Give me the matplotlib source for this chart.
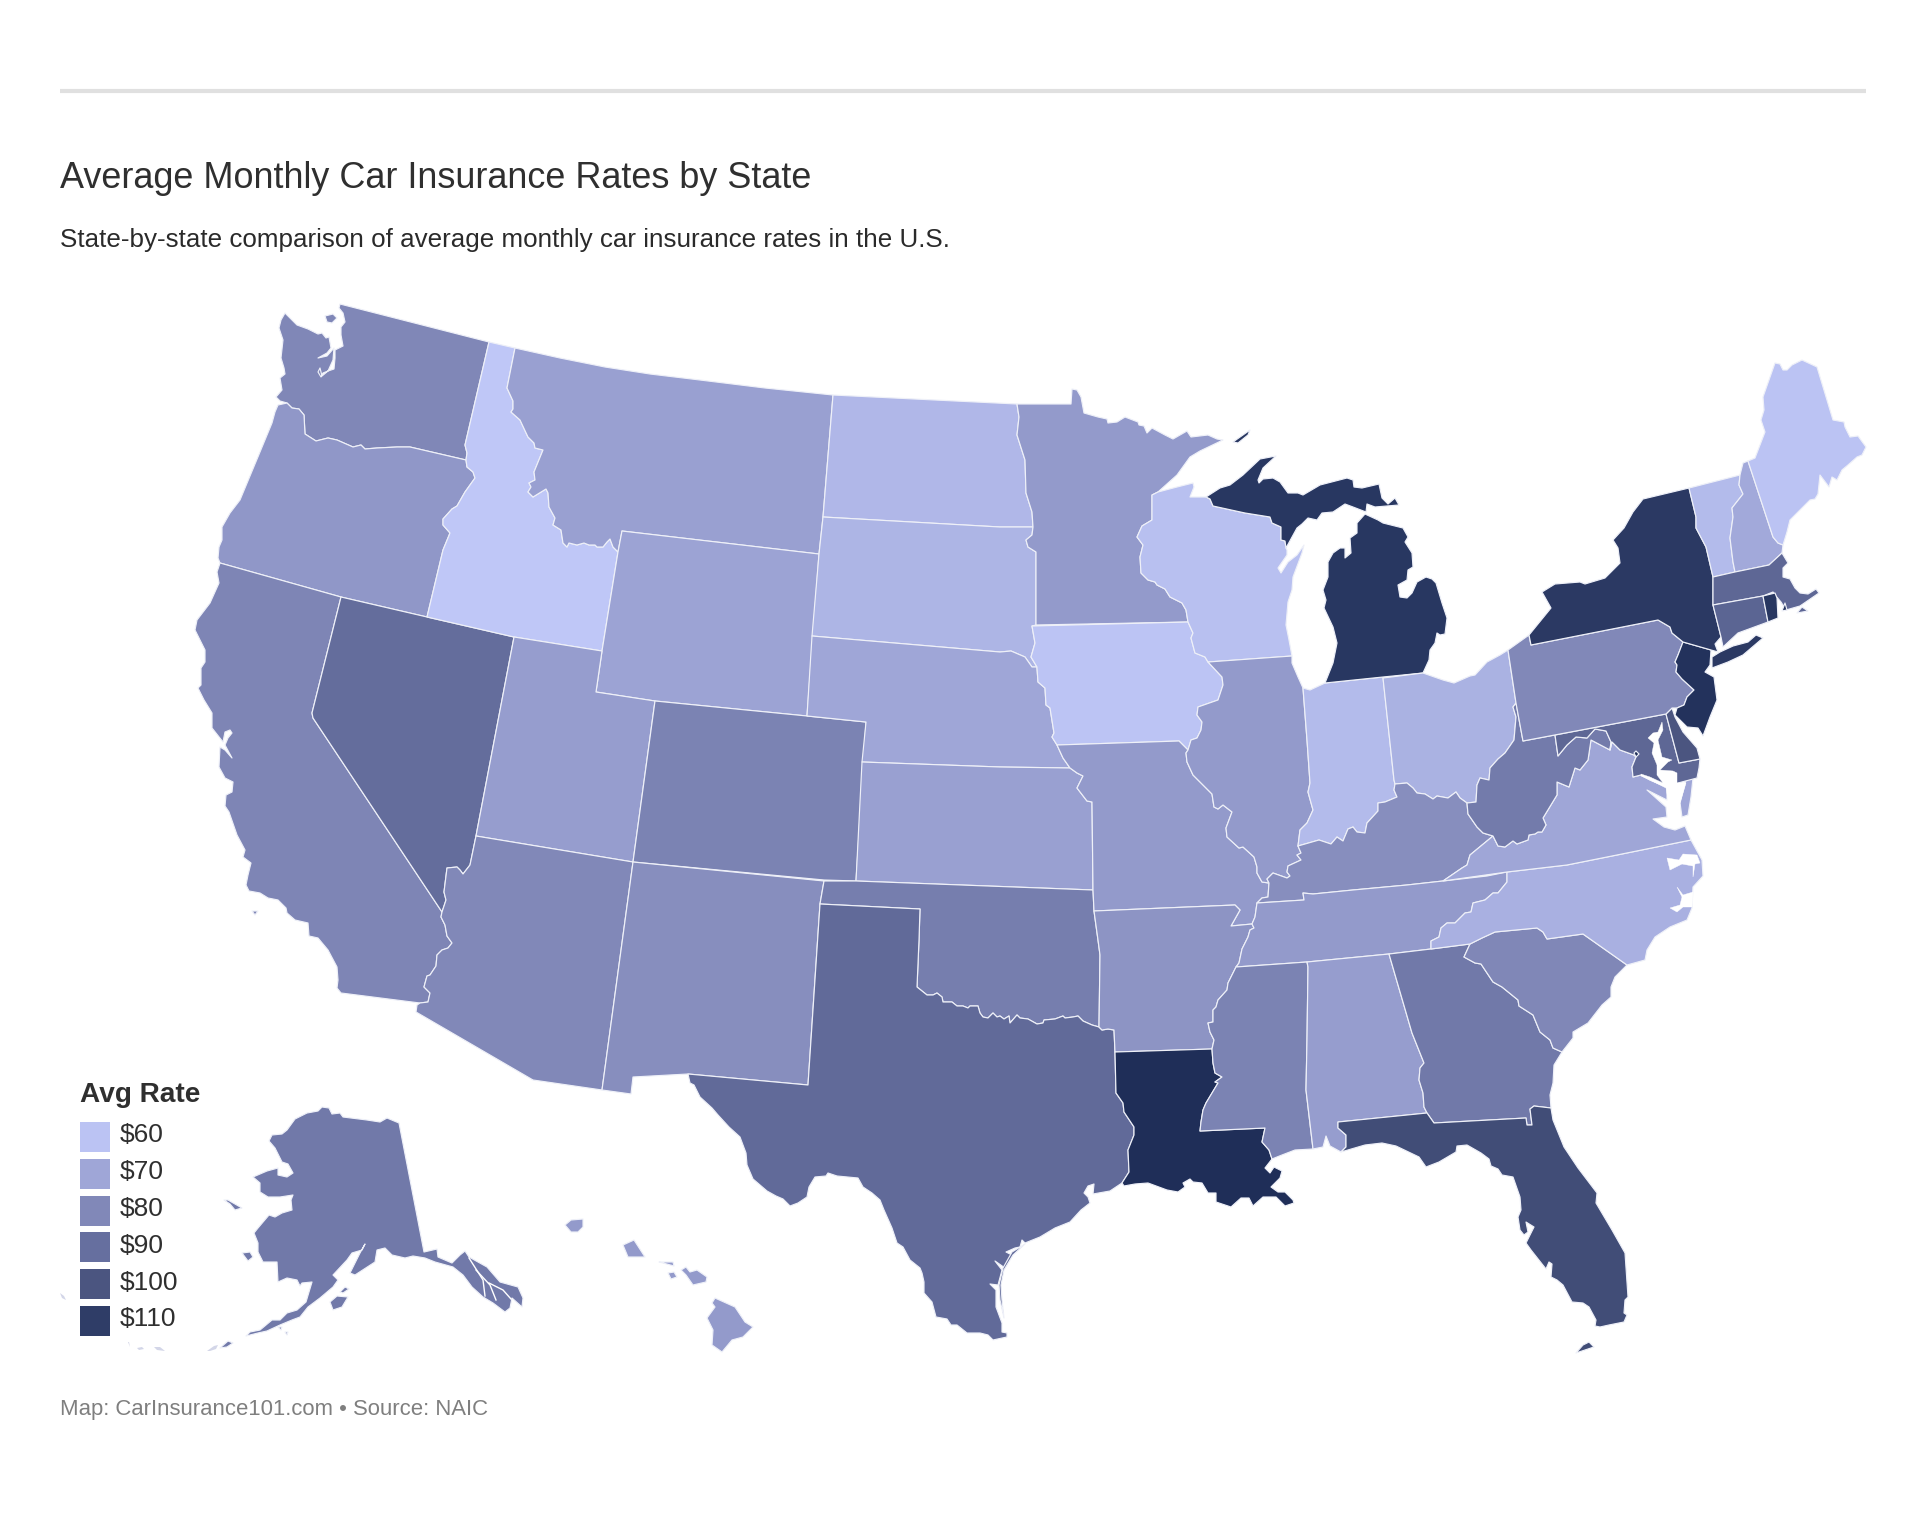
import matplotlib
matplotlib.use('Agg')
import matplotlib.pyplot as plt
from matplotlib.colors import LinearSegmentedColormap, Normalize
from matplotlib.patches import Polygon, Rectangle

plt.rcParams['font.family'] = ['Liberation Sans', 'DejaVu Sans']

TITLE = 'Average Monthly Car Insurance Rates by State'
SUBTITLE = 'State-by-state comparison of average monthly car insurance rates in the U.S.'
FOOTER = 'Map: CarInsurance101.com • Source: NAIC'

LEGEND_VALUES = [60, 70, 80, 90, 100, 110]
LEGEND_LABELS = ['$60', '$70', '$80', '$90', '$100', '$110']

# rate per state
RATES = {
    'ID': 57, 'IA': 59.5, 'ME': 60, 'WI': 61, 'IN': 63, 'VT': 63, 'ND': 64, 'SD': 65, 'OH': 66,
    'NC': 66.5, 'NH': 69, 'VA': 70, 'NE': 70, 'WY': 71, 'MT': 72, 'KS': 72, 'UT': 73, 'AL': 73,
    'MN': 74, 'MO': 74, 'IL': 74, 'TN': 74, 'HI': 74, 'OR': 75, 'AR': 76, 'NM': 78, 'KY': 78,
    'AZ': 80, 'PA': 80, 'SC': 80.5, 'WA': 80.5, 'CA': 81, 'CO': 82, 'MS': 82, 'OK': 84, 'WV': 85,
    'AK': 86, 'GA': 86, 'NV': 91, 'TX': 92, 'MA': 93, 'CT': 94, 'MD': 93, 'DE': 100, 'FL': 103.5,
    'NY': 111, 'MI': 112, 'RI': 112, 'NJ': 113.5, 'LA': 115, 'DC': 115,
}

# shared borders, in map units
WA_ID = [(489,342),(465,445),(467,453),(466,460)]
WA_OR = [(466,460),(410,447),(397,447),(377,448),(365,449),(361,445),(353,447),(337,440),(328,438),(316,441),(305,434),(304,415),(299,409),(292,408),(287,403)]
OR_ID = [(466,460),(467,467),(473,472),(475,478),(465,492),(457,506),(452,509),(443,519),(443,525),(450,533),(443,550),(427,617)]
ID_MT = [(515,348),(507,388),(513,401),(513,409),(511,412),(520,420),(528,437),(534,443),(535,448),(543,450),(534,472),(535,480),(529,483),(531,487),(528,492),(533,497),(546,489),(548,493),(549,507),(555,518),(553,525),(561,530),(563,543),(567,547),(569,543),(577,545),(584,543),(589,545),(595,545),(597,547),(603,547),(607,542),(610,539),(613,547),(618,552)]
CA_NV = [(341,597),(312,713),(313,718),(442,912)]
CA_AZ = [(420,1003),(428,1002),(430,993),(424,987),(427,976),(430,975),(436,966),(437,955),(442,950),(448,948),(452,943),(447,936),(445,925),(441,917),(442,912)]
NV_AZ = [(442,912),(446,900),(444,892),(447,868),(457,867),(460,870),(463,874),(470,865),(476,836)]
ND_MN = [(1017,404),(1019,417),(1017,435),(1025,460),(1026,493),(1032,512),(1033,527)]
SD_MN = [(1033,527),(1032,535),(1026,540),(1028,547),(1036,552),(1036,625)]
SD_IA = [(1032,626),(1035,643),(1031,657),(1037,667)]
SD_NE = [(812,636),(1000,652),(1011,651),(1025,657),(1032,667),(1037,667)]
NE_IA = [(1037,668),(1038,682),(1045,688),(1046,705),(1050,708),(1054,733),(1052,737),(1057,745)]
NE_MO = [(1057,745),(1063,758),(1070,768)]
KS_MO = [(1070,768),(1077,773),(1083,776),(1077,788),(1087,801),(1092,802),(1093,890)]
MN_WI = [(1158,492),(1152,495),(1152,520),(1142,526),(1137,537),(1143,545),(1140,557),(1141,573),(1148,580),(1155,582),(1157,585),(1165,589),(1170,597),(1182,603),(1186,610),(1188,622)]
IA_WI = [(1188,622),(1193,633),(1191,638),(1195,653),(1205,657),(1208,662)]
IA_IL = [(1208,662),(1222,677),(1223,685),(1218,700),(1198,707),(1197,715),(1202,722),(1201,730),(1197,738),(1191,740),(1188,750)]
IA_MO = [(1188,750),(1179,741),(1057,745)]
WI_MI = [(1213,506),(1245,513),(1270,517),(1272,523),(1281,527),(1281,540),(1285,541),(1286,548)]
IL_IN = [(1303,688),(1307,740),(1310,783),(1308,792),(1313,810),(1307,823),(1300,830),(1298,846)]
IL_KY = [(1298,846),(1301,853),(1297,855),(1301,860),(1288,866),(1287,872),(1290,876),(1287,878),(1273,873),(1267,879),(1269,883)]
IL_MO = [(1269,883),(1262,882),(1257,873),(1257,867),(1254,857),(1243,847),(1239,848),(1227,837),(1226,828),(1232,812),(1223,805),(1218,809),(1214,807),(1212,794),(1193,775),(1187,762),(1186,753),(1188,750)]
MO_AR = [(1094,911),(1235,905),(1240,910),(1231,926),(1252,924)]
MO_KY_TN = [(1252,924),(1255,917),(1257,903),(1262,898),(1268,897),(1269,883)]
AR_TN = [(1252,924),(1254,928),(1250,930),(1248,937),(1245,943),(1242,949),(1239,963),(1236,967)]
AR_MS = [(1236,967),(1233,973),(1228,983),(1227,990),(1218,1000),(1216,1007),(1213,1010),(1213,1022),(1208,1023),(1210,1032),(1214,1040),(1212,1049)]
AR_TX = [(1115,1052),(1114,1030),(1108,1029),(1102,1030),(1099,1027)]
RED_RIVER = [(1099,1027),(1092,1025),(1083,1021),(1078,1016),(1073,1017),(1065,1018),(1063,1016),(1055,1019),(1044,1020),(1043,1023),(1037,1024),(1028,1019),(1020,1018),(1017,1015),(1010,1023),(1009,1016),(1004,1019),(1000,1016),(997,1017),(993,1013),(988,1018),(983,1017),(980,1013),(978,1006),(970,1006),(968,1008),(963,1006),(957,1006),(952,1002),(943,1002),(942,997),(937,993),(933,995),(927,995),(917,987)]
TX_LA = [(1115,1052),(1116,1093),(1123,1103),(1124,1112),(1134,1127),(1134,1135),(1128,1150),(1129,1172),(1122,1183)]
LA_MS = [(1212,1049),(1213,1063),(1215,1073),(1222,1077),(1215,1082),(1218,1083),(1206,1103),(1203,1110),(1201,1122),(1200,1131),(1265,1128),(1262,1142),(1269,1150),(1272,1159)]
MS_AL = [(1307,962),(1308,967),(1307,1040),(1306,1090),(1313,1149)]
TN_NC = [(1507,872),(1507,882),(1498,893),(1493,893),(1485,900),(1473,903),(1471,912),(1465,913),(1455,923),(1447,923),(1441,928),(1439,937),(1431,941),(1431,949)]
KY_TN = [(1443,881),(1407,885),(1353,890),(1313,894),(1303,893),(1304,900),(1257,903)]
KY_VA = [(1443,881),(1462,868),(1467,865),(1470,855),(1493,836)]
KY_IN = [(1298,846),(1319,840),(1331,844),(1337,837),(1343,841),(1348,829),(1353,827),(1357,832),(1365,833),(1367,823),(1378,811),(1378,803),(1385,802),(1397,797),(1394,790),(1395,784)]
KY_OH = [(1395,784),(1407,783),(1413,788),(1417,793),(1425,794),(1433,799),(1437,796),(1448,798),(1456,792),(1460,798),(1467,803)]
KY_WV = [(1467,803),(1468,814),(1477,827),(1483,833),(1493,836)]
VA_WV = [(1493,836),(1498,846),(1505,847),(1513,841),(1517,844),(1528,840),(1529,835),(1535,834),(1538,832),(1542,832),(1546,825),(1543,818),(1557,795),(1557,782),(1569,787),(1575,768),(1580,770),(1588,760),(1591,740),(1610,750)]
OH_WV = [(1516,703),(1513,707),(1516,717),(1514,740),(1505,753),(1498,759),(1490,768),(1489,780),(1480,778),(1477,785),(1476,802),(1467,803)]
MD_WV = [(1555,735),(1558,756),(1567,745),(1576,737),(1587,738),(1595,729),(1606,731),(1611,742),(1610,750)]
MD_VA = [(1610,750),(1612,742),(1620,750),(1634,755),(1636,757),(1632,767),(1633,777),(1641,775),(1650,780),(1667,787)]
VA_NC = [(1507,872),(1567,865),(1617,855),(1691,840)]
AL_GA = [(1389,954),(1412,1033),(1420,1053),(1424,1063),(1420,1068),(1419,1080),(1423,1093),(1424,1107),(1427,1113)]
AL_FL = [(1427,1113),(1338,1122),(1338,1128),(1346,1135),(1346,1147),(1341,1152)]
FL_GA = [(1551,1108),(1534,1106),(1530,1109),(1532,1125),(1527,1125),(1526,1118),(1434,1123),(1427,1113)]
GA_SC = [(1470,944),(1464,957),(1475,963),(1481,964),(1493,982),(1502,987),(1518,1000),(1519,1006),(1533,1015),(1540,1032),(1550,1040),(1553,1048),(1562,1052)]
NC_SC = [(1470,944),(1482,938),(1495,932),(1537,928),(1543,932),(1547,939),(1583,934),(1627,965)]
PA_NJ = [(1683,642),(1678,655),(1675,662),(1677,665),(1676,672),(1682,679),(1694,690),(1687,697),(1684,705),(1677,708)]
NY_PA = [(1531,645),(1658,620),(1670,627),(1672,633),(1683,642)]
NY_VT = [(1689,488),(1696,517),(1696,528),(1706,547),(1713,577)]
VT_NH = [(1740,475),(1739,485),(1743,494),(1732,508),(1733,517),(1730,538),(1733,562),(1735,572)]
NH_ME = [(1748,461),(1773,537),(1778,543),(1783,545)]
NH_MA = [(1782,553),(1769,565),(1735,572)]
CT_MA = [(1713,605),(1763,596)]

OUTLINES = {
    'WA': [WA_ID + WA_OR + [(280,401),(276,397),(282,390),(280,378),(285,374),(284,368),(281,358),(283,340),(279,328),(281,320),(285,313),(297,325),(308,329),(318,334),(322,333),(326,338),(329,337),(331,348),(327,353),(318,358),(327,356),(334,348),(333,360),(328,371),(323,373),(321,377),(318,372),(320,368),(322,376),(328,371),(334,369),(335,358),(335,350),(343,346),(341,335),(341,327),(345,322),(343,313),(339,308),(340,304)],
           [(325,316),(333,314),(337,318),(332,323),(327,322)]],
    'OR': [[(287,403),(278,405),(275,412),(272,423),(260,452),(240,500),(230,513),(222,527),(222,540),(219,547),(218,558),(220,563),(341,597),(427,617)] + OR_ID[::-1] + WA_OR[1:]],
    'CA': [[(220,563),(217,572),(219,583),(210,603),(197,620),(195,630),(205,650),(205,662),(201,668),(201,685),(198,688),(204,700),(212,713),(212,728),(223,742),(225,732),(230,730),(232,733),(228,738),(225,745),(232,758),(225,750),(220,747),(219,767),(225,778),(233,782),(232,792),(226,795),(225,806),(229,812),(237,835),(245,850),(243,857),(251,863),(248,875),(246,885),(249,891),(260,893),(268,898),(278,900),(286,908),(287,913),(295,920),(308,923),(309,936),(318,938),(328,950),(337,967),(338,980),(337,988),(341,993)] + CA_AZ + CA_NV[::-1]],
    'CA_ISLAND': [[(252,911),(258,911),(255,915)]],
    'NV': [CA_NV + NV_AZ + [(514,637),(427,617)]],
    'ID': [[(489,342)] + ID_MT + [(602,651),(514,637),(427,617)] + OR_ID[::-1] + WA_ID[::-1]],
    'MT': [[(515,348),(560,358),(605,367),(650,374),(700,380),(765,388),(833,395),(823,517),(819,554),(622,531)] + ID_MT[::-1]],
    'WY': [[(622,531),(819,554),(807,716),(655,701),(596,692),(602,651),(618,552)]],
    'UT': [[(514,637),(602,651),(596,692),(655,701),(633,862),(476,836)]],
    'AZ': [[(476,836),(633,862),(602,1090),(533,1080),(416,1012),(417,1005)] + CA_AZ + NV_AZ],
    'CO': [[(655,701),(807,716),(866,722),(856,881),(824,880),(633,862)]],
    'NM': [[(633,862),(824,881),(820,904),(808,1085),(688,1074),(633,1077),(631,1094),(602,1090)]],
    'ND': [[(833,395),(1017,404)] + ND_MN + [(1000,527),(823,517)]],
    'SD': [[(823,517),(1000,527)] + SD_MN + SD_IA + SD_NE[::-1] + [(819,554)]],
    'NE': [SD_NE + NE_IA + NE_MO + [(1000,767),(862,762),(866,722),(807,716)]],
    'KS': [[(862,762),(1000,767)] + KS_MO + [(856,881)]],
    'OK': [[(824,881),(856,881),(1093,890),(1094,911),(1098,940),(1100,955)] + RED_RIVER + [(919,940),(920,909),(820,904)]],
    'TX': [[(820,904),(920,909),(919,940)] + RED_RIVER[::-1] + AR_TX[::-1] + TX_LA + [(1110,1191),(1093,1194),(1094,1184),(1088,1186),(1084,1193),(1088,1197),(1090,1203),(1081,1210),(1070,1222),(1055,1228),(1040,1237),(1025,1243),(1022,1240),(1020,1247),(1015,1248),(1006,1252),(1012,1255),(1005,1268),(995,1261),(1002,1270),(998,1285),(990,1284),(996,1290),(996,1307),(1002,1323),(1002,1332),(1007,1333),(1007,1337),(993,1340),(988,1335),(980,1333),(967,1333),(957,1325),(951,1325),(947,1319),(936,1317),(932,1302),(924,1293),(924,1282),(922,1273),(920,1268),(910,1260),(903,1247),(897,1243),(892,1228),(884,1210),(880,1200),(872,1193),(863,1187),(858,1178),(837,1176),(828,1173),(826,1176),(815,1177),(809,1187),(807,1197),(798,1203),(790,1206),(783,1199),(776,1196),(767,1191),(753,1179),(747,1165),(746,1153),(740,1137),(729,1127),(718,1115),(712,1108),(700,1097),(694,1085),(690,1083),(688,1074),(808,1085)],
           [(1025,1244),(1012,1252),(1003,1268),(999,1285),(1000,1300),(1004,1318),(1002,1300),(1001,1285),(1004,1270),(1013,1255)]],
    'MN': [[(1017,404),(1071,404),(1072,389),(1077,390),(1081,397),(1084,413),(1098,417),(1107,419),(1108,423),(1117,422),(1125,417),(1138,422),(1139,425),(1144,426),(1147,433),(1152,428),(1165,435),(1173,439),(1187,431),(1191,437),(1208,435),(1217,439),(1223,440),(1200,451),(1190,457),(1177,475)] + MN_WI + SD_MN[::-1] + ND_MN[::-1][1:]],
    'IA': [[(1032,626)] + MN_WI[-1:] + IA_WI + IA_IL + IA_MO + NE_IA[::-1] + SD_IA[::-1]],
    'MO': [NE_MO + KS_MO + MO_AR + MO_KY_TN + IL_MO + IA_MO],
    'AR': [MO_AR + AR_TN + AR_MS + [(1115,1052)] + AR_TX + [(1100,955),(1098,940)]],
    'LA': [TX_LA[::-1] + AR_TX[:1] + AR_MS[-1:] + LA_MS + [(1265,1168),(1270,1173),(1274,1167),(1282,1171),(1280,1178),(1271,1187),(1278,1192),(1285,1192),(1293,1200),(1294,1203),(1285,1206),(1276,1197),(1263,1197),(1253,1206),(1249,1198),(1241,1198),(1231,1207),(1216,1202),(1216,1193),(1208,1193),(1202,1183),(1193,1182),(1190,1179),(1183,1183),(1185,1187),(1178,1192),(1167,1190),(1148,1183),(1135,1184),(1124,1186)]],
    'WI': [[(1158,492),(1177,487),(1193,483),(1194,487),(1190,497),(1206,497),(1210,499)] + WI_MI + [(1287,550),(1287,555),(1278,568),(1281,573),(1288,562),(1297,555),(1304,545),(1302,553),(1293,577),(1292,590),(1288,602),(1286,625),(1289,640),(1292,656),(1208,662)] + IA_WI[::-1] + MN_WI[::-1]],
    'IL': [[(1208,662),(1292,656),(1292,663),(1298,677)] + IL_IN + IL_KY + IL_MO + IA_IL[::-1]],
    'IN': [[(1303,688),(1310,690),(1325,683),(1383,677),(1394,780)] + KY_IN[::-1] + IL_IN[::-1]],
    'MI': [[(1325,683),(1383,677),(1423,673),(1429,660),(1430,650),(1435,643),(1437,633),(1440,635),(1445,634),(1447,618),(1442,603),(1436,583),(1432,579),(1426,577),(1417,582),(1412,593),(1407,598),(1400,597),(1398,585),(1407,580),(1408,570),(1413,567),(1412,553),(1405,542),(1408,537),(1403,528),(1383,523),(1378,520),(1365,514),(1357,523),(1357,533),(1350,538),(1351,553),(1345,558),(1345,548),(1340,548),(1333,553),(1328,562),(1328,577),(1323,590),(1326,600),(1324,608),(1333,627),(1337,643),(1333,663)],
           [(1206,497),(1220,488),(1230,485),(1243,475),(1260,459),(1276,456),(1263,468),(1258,480),(1259,483),(1263,479),(1273,478),(1280,482),(1288,493),(1298,493),(1303,495),(1320,485),(1347,478),(1353,480),(1354,487),(1362,488),(1379,484),(1382,498),(1388,504),(1395,498),(1399,505),(1375,507),(1367,504),(1366,512),(1353,507),(1345,504),(1333,512),(1322,513),(1317,520),(1308,518),(1302,524),(1297,528)] + WI_MI[::-1] + [(1210,499)],
           [(1233,442),(1250,430),(1248,435),(1238,443)]],
    'OH': [[(1383,678),(1423,673),(1443,680),(1454,683),(1470,676),(1475,675),(1487,662),(1500,655),(1508,650)] + OH_WV + KY_OH[::-1] + [(1394,780)]],
    'KY': [IL_KY + [(1268,897),(1262,898)] + KY_TN[::-1] + KY_VA + KY_WV[::-1] + KY_OH[::-1] + KY_IN[::-1]],
    'TN': [[(1257,903)] + KY_TN[::-1] + [(1487,876)] + TN_NC + [(1389,954),(1307,962),(1236,967)] + AR_TN[::-1] + [(1255,917)]],
    'MS': [AR_MS[::-1] + [(1307,962)] + MS_AL[1:] + [(1295,1150),(1282,1155)] + LA_MS[::-1]],
    'AL': [[(1389,954)] + AL_GA + AL_FL + [(1330,1146),(1326,1136),(1323,1147)] + MS_AL[::-1]],
    'GA': [[(1389,954),(1431,949),(1470,944)] + GA_SC + [(1554,1065),(1553,1083),(1550,1095)] + FL_GA + AL_GA[::-1]],
    'FL': [AL_FL + [(1365,1145),(1382,1143),(1396,1146),(1419,1157),(1426,1167),(1439,1162),(1456,1152),(1457,1146),(1467,1145),(1481,1153),(1489,1159),(1491,1166),(1498,1169),(1502,1175),(1513,1177),(1520,1197),(1521,1210),(1518,1217),(1520,1230),(1524,1235),(1528,1232),(1526,1222),(1534,1227),(1526,1243),(1531,1250),(1546,1269),(1549,1262),(1552,1264),(1551,1277),(1557,1280),(1563,1285),(1572,1302),(1583,1303),(1589,1307),(1596,1320),(1595,1326),(1600,1327),(1609,1325),(1624,1322),(1627,1315),(1624,1313),(1625,1300),(1628,1297),(1625,1253),(1612,1230),(1596,1203),(1597,1193),(1578,1168),(1564,1147),(1553,1120)] + FL_GA],
    'FL_KEYS': [[(1576,1353),(1583,1345),(1589,1342),(1594,1347)]],
    'SC': [NC_SC + [(1615,977),(1611,987),(1611,997),(1602,1005),(1588,1023),(1573,1032),(1573,1038)] + GA_SC[::-1]],
    'NC': [VA_NC + [(1702,860),(1703,876),(1693,887),(1692,908),(1687,920),(1670,927),(1655,937),(1647,950),(1645,960),(1627,965)] + NC_SC[::-1] + [(1431,949)] + TN_NC[::-1]],
    'VA': [VA_NC + [(1685,826),(1675,830),(1664,827),(1653,819),(1667,817),(1666,807),(1647,790),(1667,800)] + MD_VA[::-1] + VA_WV[::-1] + KY_VA[::-1]],
    'VA_SHORE': [[(1693,778),(1686,780),(1680,803),(1682,817),(1688,815),(1691,797)]],
    'WV': [OH_WV + KY_WV + VA_WV + MD_WV[::-1] + [(1523,741)]],
    'MD': [[(1555,735),(1666,714),(1679,763),(1700,759),(1699,768),(1697,778),(1678,783)] + MD_VA[::-1] + MD_WV[::-1]],
    'DC': [[(1634,753),(1636,751),(1639,754),(1636,757)]],
    'DE': [[(1666,714),(1672,708),(1675,717),(1683,732),(1697,748),(1700,759),(1679,763)]],
    'PA': [[(1508,650),(1529,635)] + NY_PA + PA_NJ[1:] + [(1672,708),(1666,714),(1523,741),(1516,703)]],
    'NJ': [PA_NJ + [(1675,715),(1687,727),(1698,728),(1703,736),(1710,717),(1717,700),(1714,677),(1705,672),(1710,665),(1711,650)]],
    'NY': [[(1529,635),(1551,608),(1542,592),(1555,584),(1580,582),(1585,584),(1605,578),(1620,563),(1618,548),(1613,540),(1624,528),(1633,512),(1643,499)] + NY_VT + [(1713,605),(1721,637),(1715,644),(1718,652),(1711,650)] + NY_PA[::-1],
           [(1712,668),(1712,657),(1720,652),(1733,646),(1748,642),(1756,635),(1763,638),(1743,655),(1728,662)]],
    'VT': [NY_VT[:1] + VT_NH + [(1713,577)] + NY_VT[::-1][1:]],
    'NH': [VT_NH[:1] + [(1743,463),(1748,461)] + NH_ME + NH_MA + VT_NH[::-1]],
    'ME': [[(1748,461),(1755,458),(1765,432),(1761,420),(1764,410),(1763,397),(1775,363),(1780,364),(1783,370),(1787,370),(1792,365),(1802,360),(1817,367),(1833,420),(1844,422),(1845,427),(1850,437),(1858,436),(1866,447),(1862,455),(1857,457),(1848,465),(1842,470),(1837,480),(1832,477),(1829,487),(1820,475),(1818,494),(1815,499),(1810,500),(1790,520),(1787,532),(1783,545)] + NH_ME[::-1]],
    'MA': [[(1713,577),(1735,572)] + NH_MA[::-1] + [(1788,563),(1783,568),(1783,577),(1790,579),(1795,588),(1800,593),(1808,594),(1816,589),(1819,593),(1800,606),(1786,610),(1781,602),(1775,595),(1773,592)] + CT_MA[::-1],
           [(1802,607),(1808,611),(1797,613)]],
    'CT': [CT_MA + [(1768,622),(1738,633),(1723,647),(1721,637)]],
    'RI': [[(1763,596),(1775,593),(1777,598),(1778,618),(1768,622)], [(1782,611),(1785,603),(1787,610)]],
    'AK': [[(399,1123),(387,1118),(380,1122),(367,1120),(343,1117),(340,1113),(332,1114),(329,1108),(322,1107),(318,1111),(307,1113),(295,1119),(287,1130),(282,1134),(272,1135),(269,1141),(275,1148),(282,1162),(288,1164),(293,1173),(287,1177),(278,1175),(278,1168),(267,1171),(253,1177),(260,1183),(260,1192),(268,1197),(280,1197),(293,1195),(291,1200),(292,1210),(282,1213),(275,1217),(269,1215),(258,1228),(254,1233),(258,1243),(258,1252),(263,1262),(277,1262),(278,1282),(287,1278),(297,1280),(300,1286),(302,1283),(312,1282),(306,1302),(297,1310),(287,1313),(280,1320),(272,1320),(260,1330),(250,1332),(246,1336),(258,1333),(267,1331),(280,1325),(292,1320),(300,1317),(308,1307),(320,1298),(333,1287),(338,1280),(333,1275),(347,1260),(352,1253),(362,1250),(365,1244),(360,1253),(350,1273),(355,1275),(375,1262),(377,1250),(385,1248),(392,1255),(405,1258),(413,1256),(425,1258),(435,1262),(453,1267),(463,1275),(472,1287),(483,1297),(493,1303),(505,1312),(510,1308),(512,1298),(522,1307),(523,1298),(518,1287),(500,1282),(487,1267),(469,1257),(465,1251),(460,1255),(452,1263),(438,1257),(437,1249),(424,1252)],
           [(224,1200),(228,1200),(242,1208),(235,1210),(230,1204)],
           [(242,1253),(250,1252),(253,1257),(248,1261)],
           [(330,1302),(337,1296),(348,1297),(342,1307),(333,1310)],
           [(340,1292),(345,1287),(349,1289),(343,1293)],
           [(220,1348),(228,1341),(233,1343),(227,1347)],
           [(278,1327),(282,1327),(281,1330)],
           [(285,1332),(288,1332),(287,1335)]],
    'HI': [[(565,1225),(571,1220),(583,1219),(583,1227),(578,1232),(571,1232)],
           [(623,1245),(634,1240),(645,1257),(628,1257)],
           [(659,1262),(673,1262),(674,1266),(663,1263)],
           [(668,1273),(674,1272),(677,1277),(671,1279)],
           [(681,1270),(686,1267),(690,1272),(697,1270),(707,1277),(706,1282),(693,1285),(686,1275)],
           [(715,1298),(735,1307),(745,1322),(753,1327),(743,1337),(732,1340),(722,1352),(712,1345),(713,1330),(707,1318),(715,1307),(712,1303)]],
}

# bays cut out of the land after the states are drawn
WATER = [
    [(1662,722),(1658,732),(1653,733),(1648,738),(1654,743),(1652,753),(1657,765),(1657,775),(1663,783),(1650,777),(1641,774),(1641,776),(1650,780),(1666,788),(1668,800),(1668,817),(1680,817),(1680,803),(1686,783),(1677,783),(1677,773),(1673,771),(1660,770),(1668,762),(1672,760),(1662,757),(1658,740),(1663,730)],
    [(1667,858),(1670,870),(1682,864),(1693,866),(1693,877),(1695,864),(1700,863),(1697,855),(1683,854),(1679,860)],
    [(1677,887),(1683,895),(1693,892),(1692,907),(1683,907),(1677,912),(1670,908),(1680,905),(1682,897)],
    [(1188,1188),(1194,1186),(1198,1190),(1192,1192)],
]
AK_CHANNELS = [
    [(469,1258),(483,1280),(485,1296)],
    [(476,1270),(490,1285),(496,1300)],
    [(489,1283),(503,1290),(511,1299)],
]
PALE_ISLES = [
    [(60,1293),(64,1296),(66,1300),(62,1298)],
    [(128,1342),(129,1342),(130,1347)],
    [(137,1348),(142,1347),(144,1349),(139,1350)],
    [(154,1347),(160,1347),(165,1351),(157,1350)],
    [(207,1351),(214,1346),(218,1345),(216,1349),(210,1351)],
]

LEGEND_STOPS = ['#C8D0FF', '#BBC3F3', '#9FA6D7', '#8188B8', '#666F9F', '#4B5580', '#2F3D67', '#0F1F49']
cmap = LinearSegmentedColormap.from_list('rates', LEGEND_STOPS)
norm = Normalize(vmin=50, vmax=120)


def rate_color(value):
    return cmap(norm(value))


fig = plt.figure(figsize=(19.26, 15.2), dpi=100, facecolor='white')
ax = fig.add_axes([0, 0, 1, 1])
ax.set_xlim(0, 1926)
ax.set_ylim(1520, 0)
ax.axis('off')

for name, parts in OUTLINES.items():
    value = RATES[name.split('_')[0]]
    for part in parts:
        ax.add_patch(Polygon(part, closed=True, facecolor=rate_color(value), edgecolor='#eef0f8',
                             linewidth=0.85, joinstyle='round', zorder=2))

for bay in WATER:
    ax.add_patch(Polygon(bay, closed=True, facecolor='white', edgecolor='white', linewidth=0.3, zorder=3))
for channel in AK_CHANNELS:
    xs, ys = zip(*channel)
    ax.plot(xs, ys, color='white', lw=1.0, zorder=3)
for isle in PALE_ISLES:
    ax.add_patch(Polygon(isle, closed=True, facecolor='#d3d6e8', edgecolor='none', zorder=2))

# header and footer
ax.plot([60, 1866], [91, 91], color='#e0e0e0', lw=3.0, solid_capstyle='butt')
ax.text(60, 178.5, TITLE, fontsize=25.95, color='#2f2f2f', va='center', ha='left')
ax.text(60, 239.5, SUBTITLE, fontsize=18.7, color='#2a2a2a', va='center', ha='left')
ax.text(60, 1410, FOOTER, fontsize=15.9, color='#7f7f7f', va='center', ha='left')

# legend
ax.text(80, 1095.5, 'Avg Rate', fontsize=20.2, fontweight='bold', color='#2f2f2f', va='center', ha='left')
for i, (val, lab) in enumerate(zip(LEGEND_VALUES, LEGEND_LABELS)):
    top = 1122 + i * 36.8
    ax.add_patch(Rectangle((80, top), 30, 30, facecolor=rate_color(val), edgecolor='none', zorder=2))
    ax.text(120, top + 13.5, lab, fontsize=19, color='#2f2f2f', va='center', ha='left')

fig.savefig('out.png', dpi=100, facecolor='white')
